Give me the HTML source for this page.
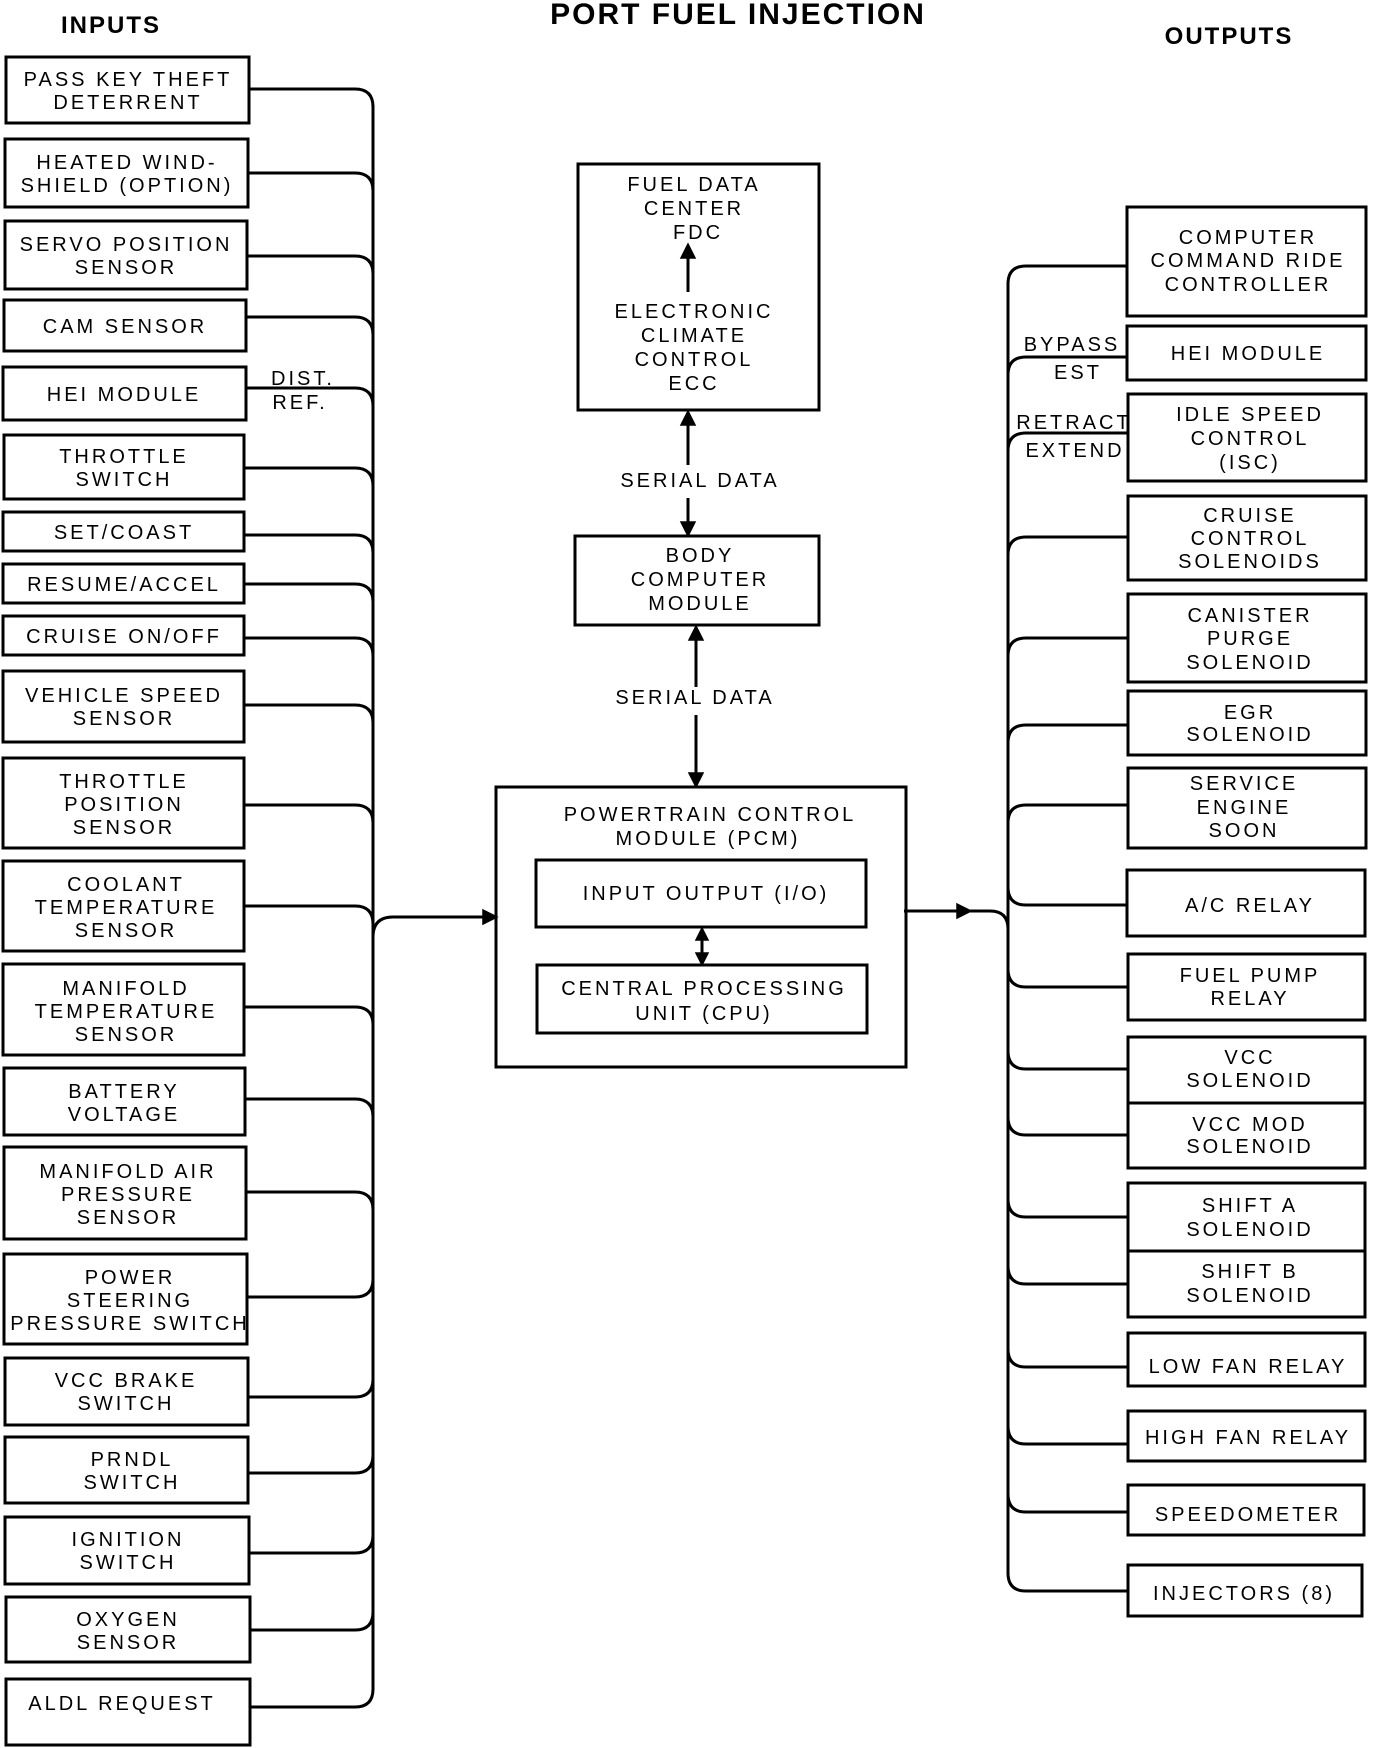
<!DOCTYPE html>
<html><head><meta charset="utf-8"><style>
html,body{margin:0;padding:0;background:#fff}
svg{display:block}
text{font-family:"Liberation Sans",Arial,sans-serif;font-size:20px;letter-spacing:3px;fill:#000;text-anchor:middle}
.b{font-weight:bold}
rect{fill:none;stroke:#000;stroke-width:3}
path{fill:none;stroke:#000;stroke-width:3}
.a{fill:#000;stroke:#000;stroke-width:1.5}
</style></head><body>
<svg width="1392" height="1748" viewBox="0 0 1392 1748" xmlns="http://www.w3.org/2000/svg">
<text class="b" x="111" y="33" style="font-size:24px;letter-spacing:2px">INPUTS</text>
<text class="b" x="738" y="24" style="font-size:30px;letter-spacing:2px">PORT FUEL INJECTION</text>
<text class="b" x="1229" y="44" style="font-size:24px;letter-spacing:2px">OUTPUTS</text>

<!-- LEFT BOXES -->
<rect x="6" y="57" width="243" height="66"/><text x="128" y="86">PASS KEY THEFT</text><text x="128" y="109">DETERRENT</text>
<rect x="5" y="139" width="243" height="68"/><text x="127" y="169">HEATED WIND-</text><text x="127" y="192">SHIELD (OPTION)</text>
<rect x="5" y="221" width="242" height="68"/><text x="126" y="251">SERVO POSITION</text><text x="126" y="274">SENSOR</text>
<rect x="4" y="300" width="242" height="51"/><text x="125" y="333">CAM SENSOR</text>
<rect x="3" y="367" width="243" height="53"/><text x="124" y="401">HEI MODULE</text>
<text x="303" y="385" style="text-anchor:middle">DIST.</text><text x="300" y="409">REF.</text>
<rect x="4" y="435" width="240" height="64"/><text x="124" y="463">THROTTLE</text><text x="124" y="486">SWITCH</text>
<rect x="3" y="512" width="241" height="39"/><text x="124" y="539">SET/COAST</text>
<rect x="3" y="564" width="241" height="39"/><text x="124" y="591">RESUME/ACCEL</text>
<rect x="3" y="616" width="241" height="39"/><text x="124" y="643">CRUISE ON/OFF</text>
<rect x="3" y="671" width="241" height="71"/><text x="124" y="702">VEHICLE SPEED</text><text x="124" y="725">SENSOR</text>
<rect x="3" y="758" width="241" height="90"/><text x="124" y="788">THROTTLE</text><text x="124" y="811">POSITION</text><text x="124" y="834">SENSOR</text>
<rect x="3" y="861" width="241" height="90"/><text x="126" y="891">COOLANT</text><text x="126" y="914">TEMPERATURE</text><text x="126" y="937">SENSOR</text>
<rect x="3" y="964" width="241" height="91"/><text x="126" y="995">MANIFOLD</text><text x="126" y="1018">TEMPERATURE</text><text x="126" y="1041">SENSOR</text>
<rect x="4" y="1068" width="241" height="67"/><text x="124" y="1098">BATTERY</text><text x="124" y="1121">VOLTAGE</text>
<rect x="4" y="1147" width="242" height="92"/><text x="128" y="1178">MANIFOLD AIR</text><text x="128" y="1201">PRESSURE</text><text x="128" y="1224">SENSOR</text>
<rect x="4" y="1254" width="243" height="90"/><text x="130" y="1284">POWER</text><text x="130" y="1307">STEERING</text><text x="130" y="1330">PRESSURE SWITCH</text>
<rect x="5" y="1358" width="243" height="67"/><text x="126" y="1387">VCC BRAKE</text><text x="126" y="1410">SWITCH</text>
<rect x="5" y="1437" width="243" height="66"/><text x="132" y="1466">PRNDL</text><text x="132" y="1489">SWITCH</text>
<rect x="5" y="1517" width="244" height="67"/><text x="128" y="1546">IGNITION</text><text x="128" y="1569">SWITCH</text>
<rect x="6" y="1597" width="244" height="65"/><text x="128" y="1626">OXYGEN</text><text x="128" y="1649">SENSOR</text>
<rect x="6" y="1679" width="244" height="66"/><text x="122" y="1710">ALDL REQUEST</text>

<!-- LEFT BUS -->
<path d="M373 105 V1690"/>
<path d="M249 89 H355 Q373 89 373 107"/>
<path d="M248 173 H355 Q373 173 373 191"/>
<path d="M247 256 H355 Q373 256 373 274"/>
<path d="M246 317 H355 Q373 317 373 335"/>
<path d="M246 388 H355 Q373 388 373 406"/>
<path d="M244 468 H355 Q373 468 373 486"/>
<path d="M244 535 H355 Q373 535 373 553"/>
<path d="M244 584 H355 Q373 584 373 602"/>
<path d="M244 638 H355 Q373 638 373 656"/>
<path d="M244 705 H355 Q373 705 373 723"/>
<path d="M244 805 H355 Q373 805 373 823"/>
<path d="M244 906 H355 Q373 906 373 924"/>
<path d="M244 1007 H355 Q373 1007 373 1025"/>
<path d="M245 1099 H355 Q373 1099 373 1117"/>
<path d="M246 1192 H355 Q373 1192 373 1210"/>
<path d="M247 1297 H355 Q373 1297 373 1279"/>
<path d="M248 1397 H355 Q373 1397 373 1379"/>
<path d="M248 1473 H355 Q373 1473 373 1455"/>
<path d="M249 1553 H355 Q373 1553 373 1535"/>
<path d="M250 1630 H355 Q373 1630 373 1612"/>
<path d="M250 1707 H355 Q373 1707 373 1689"/>
<!-- feed to PCM -->
<path d="M373 937 Q373 917 393 917 H484"/>
<polygon class="a" points="483,910 497,917 483,924"/>

<!-- CENTER -->
<rect x="578" y="164" width="241" height="246"/>
<text x="694" y="191">FUEL DATA</text><text x="694" y="215">CENTER</text><text x="698" y="239">FDC</text>
<path d="M688 292 V256"/><polygon class="a" points="681,258 688,244 695,258"/>
<text x="694" y="318">ELECTRONIC</text><text x="694" y="342">CLIMATE</text><text x="694" y="366">CONTROL</text><text x="694" y="390">ECC</text>
<path d="M688 465 V424"/><polygon class="a" points="681,425 688,411 695,425"/>
<text x="700" y="487">SERIAL DATA</text>
<path d="M688 498 V524"/><polygon class="a" points="681,522 688,536 695,522"/>
<rect x="575" y="536" width="244" height="89"/>
<text x="700" y="562">BODY</text><text x="700" y="586">COMPUTER</text><text x="700" y="610">MODULE</text>
<path d="M696 687 V639"/><polygon class="a" points="689,640 696,626 703,640"/>
<text x="695" y="704">SERIAL DATA</text>
<path d="M696 715 V775"/><polygon class="a" points="689,773 696,787 703,773"/>
<rect x="496" y="787" width="410" height="280"/>
<text x="710" y="821">POWERTRAIN CONTROL</text><text x="708" y="845">MODULE (PCM)</text>
<rect x="536" y="860" width="330" height="67"/>
<text x="706" y="900">INPUT OUTPUT (I/O)</text>
<path d="M702 938 V954"/>
<polygon class="a" points="696,940 702,928 708,940"/><polygon class="a" points="696,953 702,965 708,953"/>
<rect x="537" y="965" width="330" height="68"/>
<text x="704" y="995">CENTRAL PROCESSING</text><text x="704" y="1020">UNIT (CPU)</text>
<!-- PCM out -->
<path d="M904 911 H958"/>
<polygon class="a" points="957,904 971,911 957,918"/>
<path d="M970 911 H990 Q1008 911 1008 929"/>

<!-- RIGHT BUS -->
<path d="M1008 282 V1575"/>
<path d="M1127 266 H1026 Q1008 266 1008 284"/>
<path d="M1127 357 H1026 Q1008 357 1008 375"/>
<path d="M1127 433 H1026 Q1008 433 1008 451"/>
<path d="M1127 537 H1026 Q1008 537 1008 555"/>
<path d="M1127 638 H1026 Q1008 638 1008 656"/>
<path d="M1127 725 H1026 Q1008 725 1008 743"/>
<path d="M1127 805 H1026 Q1008 805 1008 823"/>
<path d="M1127 905 H1026 Q1008 905 1008 887"/>
<path d="M1127 987 H1026 Q1008 987 1008 969"/>
<path d="M1127 1069 H1026 Q1008 1069 1008 1051"/>
<path d="M1127 1135 H1026 Q1008 1135 1008 1117"/>
<path d="M1127 1217 H1026 Q1008 1217 1008 1199"/>
<path d="M1127 1284 H1026 Q1008 1284 1008 1266"/>
<path d="M1127 1367 H1026 Q1008 1367 1008 1349"/>
<path d="M1127 1444 H1026 Q1008 1444 1008 1426"/>
<path d="M1127 1512 H1026 Q1008 1512 1008 1494"/>
<path d="M1127 1591 H1026 Q1008 1591 1008 1573"/>
<text x="1072" y="351">BYPASS</text><text x="1078" y="379">EST</text>
<text x="1074" y="429">RETRACT</text><text x="1075" y="457">EXTEND</text>

<!-- RIGHT BOXES -->
<rect x="1127" y="207" width="239" height="109"/><text x="1248" y="244">COMPUTER</text><text x="1248" y="267">COMMAND RIDE</text><text x="1248" y="291">CONTROLLER</text>
<rect x="1127" y="326" width="239" height="54"/><text x="1248" y="360">HEI MODULE</text>
<rect x="1128" y="394" width="238" height="87"/><text x="1250" y="421">IDLE SPEED</text><text x="1250" y="445">CONTROL</text><text x="1250" y="469">(ISC)</text>
<rect x="1128" y="496" width="238" height="84"/><text x="1250" y="522">CRUISE</text><text x="1250" y="545">CONTROL</text><text x="1250" y="568">SOLENOIDS</text>
<rect x="1128" y="594" width="238" height="88"/><text x="1250" y="622">CANISTER</text><text x="1250" y="645">PURGE</text><text x="1250" y="669">SOLENOID</text>
<rect x="1128" y="691" width="238" height="64"/><text x="1250" y="719">EGR</text><text x="1250" y="741">SOLENOID</text>
<rect x="1128" y="768" width="238" height="80"/><text x="1244" y="790">SERVICE</text><text x="1244" y="814">ENGINE</text><text x="1244" y="837">SOON</text>
<rect x="1127" y="870" width="238" height="66"/><text x="1250" y="912">A/C RELAY</text>
<rect x="1128" y="954" width="237" height="66"/><text x="1250" y="982">FUEL PUMP</text><text x="1250" y="1005">RELAY</text>
<rect x="1128" y="1037" width="237" height="131"/><path d="M1128 1103 H1365"/>
<text x="1250" y="1064">VCC</text><text x="1250" y="1087">SOLENOID</text>
<text x="1250" y="1131">VCC MOD</text><text x="1250" y="1153">SOLENOID</text>
<rect x="1128" y="1183" width="237" height="134"/><path d="M1128 1251 H1365"/>
<text x="1250" y="1212">SHIFT A</text><text x="1250" y="1236">SOLENOID</text>
<text x="1250" y="1278">SHIFT B</text><text x="1250" y="1302">SOLENOID</text>
<rect x="1128" y="1333" width="237" height="53"/><text x="1248" y="1373">LOW FAN RELAY</text>
<rect x="1128" y="1411" width="237" height="50"/><text x="1248" y="1444">HIGH FAN RELAY</text>
<rect x="1128" y="1485" width="236" height="50"/><text x="1248" y="1521">SPEEDOMETER</text>
<rect x="1128" y="1565" width="234" height="51"/><text x="1244" y="1600">INJECTORS (8)</text>
</svg>
</body></html>
